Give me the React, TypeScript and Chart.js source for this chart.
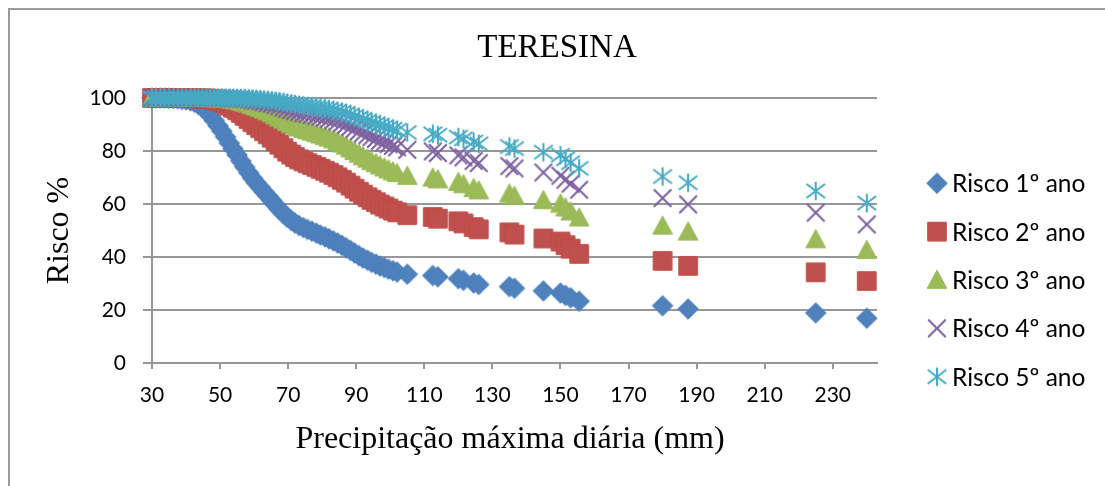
import { useEffect, useRef } from 'react';
import { Chart, registerables } from 'chart.js';

Chart.register(...registerables);

// Precipitação máxima diária (mm)
const precip = [
  30.0, 31.2, 32.5, 33.7, 35.0, 36.3, 37.6, 38.8, 40.0, 41.3,
  42.5, 43.6, 44.8, 46.0, 47.1, 48.3, 49.4, 50.5, 51.6, 52.7,
  53.8, 55.0, 56.1, 57.2, 58.4, 59.5, 60.6, 61.8, 62.9, 64.0,
  65.2, 66.3, 67.4, 68.6, 69.7, 70.9, 72.0, 73.2, 74.5, 75.7,
  77.0, 78.3, 79.5, 80.8, 82.0, 83.3, 84.5, 85.8, 87.0, 88.3,
  89.5, 90.8, 92.0, 93.3, 94.5, 95.8, 97.0, 98.3, 99.5, 100.8,
  102.0, 105.0, 112.5, 114.0, 120.0, 121.5, 124.5, 126.0, 135.0, 136.5,
  145.0, 150.0, 151.5, 153.0, 155.5, 180.0, 187.5, 225.0, 240.0,
];

// Risco (%) no 1º ano
const risco1 = [
  100, 100, 100, 100, 99.9, 99.8, 99.7, 99.5, 99.3, 98.9,
  98.4, 97.6, 96.5, 95.0, 93.4, 91.5, 89.5, 87.5, 85.3, 83.0,
  80.8, 78.5, 76.2, 74.0, 71.8, 69.8, 68.0, 66.3, 64.6, 63.0,
  61.3, 59.6, 58.0, 56.5, 55.0, 53.8, 52.8, 51.9, 51.1, 50.4,
  49.7, 49.0, 48.3, 47.6, 46.9, 46.1, 45.3, 44.4, 43.5, 42.5,
  41.5, 40.5, 39.6, 38.8, 38.0, 37.3, 36.6, 36.0, 35.4, 34.8,
  34.3, 33.5, 33.0, 32.5, 31.8, 31.2, 30.2, 29.6, 28.8, 28.2,
  27.2, 26.4, 25.5, 24.6, 23.3, 21.6, 20.4, 18.9, 16.9,
];

// Risco (%) no 2º ano
const risco2 = [
  100, 100, 100, 100, 100, 100, 100, 100, 100, 99.99,
  99.97, 99.94, 99.88, 99.75, 99.56, 99.28, 98.90, 98.44, 97.84, 97.11,
  96.31, 95.38, 94.34, 93.24, 92.05, 90.88, 89.76, 88.64, 87.47, 86.31,
  85.02, 83.68, 82.36, 81.08, 79.75, 78.66, 77.72, 76.86, 76.09, 75.40,
  74.70, 73.99, 73.27, 72.54, 71.80, 70.95, 70.08, 69.09, 68.08, 66.94,
  65.78, 64.60, 63.52, 62.55, 61.56, 60.69, 59.80, 59.04, 58.27, 57.49,
  56.84, 55.78, 55.11, 54.44, 53.49, 52.67, 51.28, 50.44, 49.31, 48.45,
  47.00, 45.83, 44.50, 43.15, 41.17, 38.53, 36.64, 34.23, 30.94,
];

// Risco (%) no 3º ano
const risco3 = [
  100, 100, 100, 100, 100, 100, 100, 100, 100, 100,
  100, 100, 100, 99.99, 99.97, 99.94, 99.88, 99.80, 99.68, 99.51,
  99.29, 99.01, 98.65, 98.24, 97.76, 97.25, 96.72, 96.17, 95.56, 94.93,
  94.20, 93.41, 92.59, 91.77, 90.89, 90.14, 89.48, 88.87, 88.31, 87.80,
  87.27, 86.73, 86.18, 85.61, 85.03, 84.34, 83.63, 82.81, 81.96, 80.99,
  79.98, 78.94, 77.97, 77.08, 76.17, 75.35, 74.52, 73.79, 73.04, 72.28,
  71.64, 70.59, 69.92, 69.25, 68.28, 67.43, 65.99, 65.11, 63.91, 62.99,
  61.42, 60.13, 58.65, 57.13, 54.88, 51.81, 49.56, 46.66, 42.61,
];

// Risco (%) no 4º ano
const risco4 = [
  100, 100, 100, 100, 100, 100, 100, 100, 100, 100,
  100, 100, 100, 100, 100, 99.99, 99.99, 99.98, 99.95, 99.92,
  99.86, 99.79, 99.68, 99.54, 99.37, 99.17, 98.95, 98.71, 98.43, 98.13,
  97.76, 97.34, 96.89, 96.42, 95.90, 95.44, 95.04, 94.65, 94.28, 93.95,
  93.60, 93.23, 92.86, 92.46, 92.05, 91.56, 91.05, 90.44, 89.81, 89.07,
  88.29, 87.47, 86.69, 85.97, 85.22, 84.54, 83.84, 83.22, 82.58, 81.93,
  81.37, 80.44, 79.85, 79.24, 78.37, 77.59, 76.26, 75.44, 74.30, 73.42,
  71.91, 70.66, 69.19, 67.68, 65.39, 62.22, 59.85, 56.74, 52.31,
];

// Risco (%) no 5º ano
const risco5 = [
  100, 100, 100, 100, 100, 100, 100, 100, 100, 100,
  100, 100, 100, 100, 100, 100, 100, 100, 99.99, 99.99,
  99.97, 99.95, 99.92, 99.88, 99.82, 99.75, 99.66, 99.57, 99.44, 99.31,
  99.13, 98.92, 98.69, 98.44, 98.15, 97.90, 97.66, 97.43, 97.20, 97.00,
  96.78, 96.55, 96.31, 96.05, 95.78, 95.45, 95.10, 94.69, 94.24, 93.71,
  93.15, 92.54, 91.96, 91.41, 90.84, 90.31, 89.76, 89.26, 88.75, 88.22,
  87.76, 86.99, 86.50, 85.99, 85.25, 84.58, 83.43, 82.71, 81.70, 80.92,
  79.55, 78.40, 77.05, 75.63, 73.46, 70.38, 68.04, 64.92, 60.37,
];

const chartTitle = 'TERESINA';
const xTitle = 'Precipitação máxima diária (mm)';
const yTitle = 'Risco %';
const seriesNames = ['Risco 1º ano', 'Risco 2º ano', 'Risco 3º ano', 'Risco 4º ano', 'Risco 5º ano'];
const xTicks = [30, 50, 70, 90, 110, 130, 150, 170, 190, 210, 230];
const yTicks = [0, 20, 40, 60, 80, 100];

const markerStyles = [
  { shape: 'diamond', fill: '#4f81bd', line: '#4a7ebb' },
  { shape: 'square', fill: '#c0504d', line: '#be4b48' },
  { shape: 'triangle', fill: '#9bbb59', line: '#98b954' },
  { shape: 'x', fill: '', line: '#7d60a0' },
  { shape: 'star', fill: '', line: '#46aac5' },
];

const GRID = '#979797';
const SERIF = "'Liberation Serif', 'Times New Roman', serif";
const SANS = "Lato, 'Open Sans', sans-serif";

function makeMarker(shape: string, fill: string, line: string): HTMLCanvasElement {
  const size = 26;
  const c = document.createElement('canvas');
  c.width = size;
  c.height = size;
  const g = c.getContext('2d') as CanvasRenderingContext2D;
  const m = size / 2;
  g.lineJoin = 'miter';
  g.strokeStyle = line;
  g.fillStyle = fill;
  g.beginPath();
  if (shape === 'diamond') {
    const h = 10.3;
    g.moveTo(m, m - h);
    g.lineTo(m + h, m);
    g.lineTo(m, m + h);
    g.lineTo(m - h, m);
    g.closePath();
    g.fill();
    g.lineWidth = 1;
    g.stroke();
  } else if (shape === 'square') {
    const h = 9.3;
    g.rect(m - h, m - h, 2 * h, 2 * h);
    g.fill();
    g.lineWidth = 1;
    g.stroke();
  } else if (shape === 'triangle') {
    const h = 9.8;
    g.moveTo(m, m - h);
    g.lineTo(m + h, m + h * 0.85);
    g.lineTo(m - h, m + h * 0.85);
    g.closePath();
    g.fill();
    g.lineWidth = 1;
    g.stroke();
  } else if (shape === 'x') {
    const h = 8.8;
    g.moveTo(m - h, m - h);
    g.lineTo(m + h, m + h);
    g.moveTo(m - h, m + h);
    g.lineTo(m + h, m - h);
    g.lineWidth = 2;
    g.stroke();
  } else {
    const h = 9.3;
    g.moveTo(m - h, m - h * 0.75);
    g.lineTo(m + h, m + h * 0.75);
    g.moveTo(m - h, m + h * 0.75);
    g.lineTo(m + h, m - h * 0.75);
    g.moveTo(m, m - h);
    g.lineTo(m, m + h);
    g.lineWidth = 2;
    g.stroke();
  }
  return c;
}

export default function App() {
  const ref = useRef<HTMLCanvasElement>(null);

  useEffect(() => {
    const canvas = ref.current;
    if (!canvas) return;
    const markers = markerStyles.map((s) => makeMarker(s.shape, s.fill, s.line));
    const series = [risco1, risco2, risco3, risco4, risco5];

    // Chart title, x-axis title and the legend on the right
    const decorations = {
      id: 'decorations',
      afterDraw(chart: Chart) {
        const ctx = chart.ctx;
        ctx.save();
        ctx.fillStyle = '#000';
        ctx.textBaseline = 'middle';
        ctx.textAlign = 'center';
        ctx.font = `33px ${SERIF}`;
        ctx.fillText(chartTitle, 549, 40);

        ctx.font = `32px ${SERIF}`;
        ctx.fillText(xTitle, 502, 432);

        ctx.font = `24.5px ${SANS}`;
        ctx.textAlign = 'left';
        seriesNames.forEach((name, i) => {
          const y = 175.3 + i * 48.35;
          const mk = markers[i];
          ctx.drawImage(mk, 929 - mk.width / 2, y - mk.height / 2);
          ctx.fillText(name, 944, y + 1);
        });
        ctx.restore();
      },
    };

    const chart = new Chart(canvas, {
      type: 'scatter',
      data: {
        datasets: series.map((vals, i) => ({
          label: seriesNames[i],
          data: precip.map((x, k) => ({ x, y: vals[k] })),
          pointStyle: markers[i],
          pointRadius: 6,
          pointHoverRadius: 6,
          showLine: false,
          clip: false,
          order: 5 - i,
        })),
      },
      options: {
        responsive: false,
        animation: false,
        devicePixelRatio: 1,
        events: [],
        layout: { padding: { left: 0, right: 228, top: 90, bottom: 0 } },
        plugins: {
          legend: { display: false },
          tooltip: { enabled: false },
          title: { display: false },
        },
        scales: {
          x: {
            type: 'linear',
            min: 30,
            max: 243,
            afterBuildTicks: (s: any) => {
              s.ticks = xTicks.map((v) => ({ value: v }));
            },
            afterFit: (s: any) => {
              s.height = 123;
            },
            grid: { drawOnChartArea: false, color: GRID, lineWidth: 2, tickLength: 6 },
            border: { color: GRID, width: 2 },
            ticks: {
              color: '#000',
              font: { family: SANS, size: 21 },
              padding: 14,
              maxRotation: 0,
              autoSkip: false,
            },
            title: { display: false },
          },
          y: {
            type: 'linear',
            min: 0,
            max: 100,
            afterBuildTicks: (s: any) => {
              s.ticks = yTicks.map((v) => ({ value: v }));
            },
            afterFit: (s: any) => {
              s.width = 144;
            },
            grid: { color: GRID, lineWidth: 2, tickLength: 9 },
            border: { color: GRID, width: 2 },
            ticks: { color: '#000', font: { family: SANS, size: 21 }, padding: 17 },
            title: {
              display: true,
              text: yTitle,
              color: '#000',
              font: { family: SERIF, size: 32, weight: 'normal', lineHeight: 1.2 },
              padding: { top: 32.8, bottom: 0 },
            },
          },
        },
      },
      plugins: [decorations],
    } as any);

    return () => chart.destroy();
  }, []);

  return (
    <div
      style={{
        position: 'fixed',
        left: 8,
        top: 8,
        width: 1097,
        height: 478,
        overflow: 'hidden',
        background: '#fff',
      }}
    >
      <div
        style={{
          position: 'absolute',
          left: 0,
          top: 0,
          width: 1200,
          height: 600,
          border: '2px solid #9b9b9b',
          boxSizing: 'border-box',
        }}
      />
      <canvas
        ref={ref}
        width={1097}
        height={478}
        style={{ position: 'absolute', left: 0, top: 0, width: 1097, height: 478 }}
      />
    </div>
  );
}
